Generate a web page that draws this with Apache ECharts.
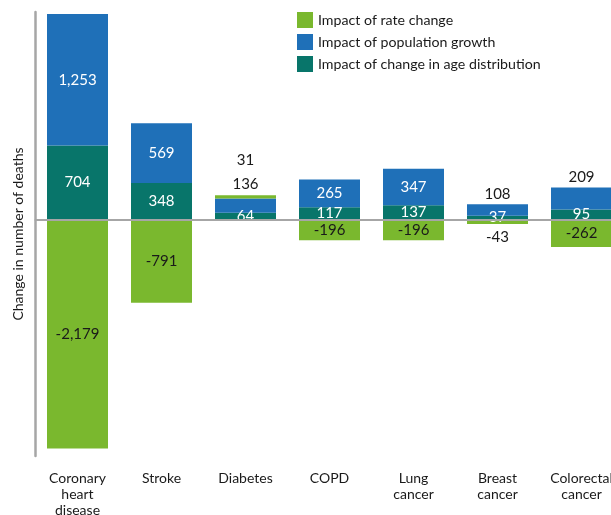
<!DOCTYPE html>
<head>
    <meta charset="utf-8">
    <title>Change in number of deaths</title>
    <style>
        body { margin: 0; background: #fff; }
        #chart { width: 611px; height: 515px; }
    </style>
</head>
<body>
    <div id="chart"></div>

    <script src="https://cdn.jsdelivr.net/npm/echarts@6/dist/echarts.min.js"></script>
    <script type="text/javascript">

    // data
    var causes = ['Coronary\nheart\ndisease', 'Stroke', 'Diabetes', 'COPD', 'Lung\ncancer', 'Breast\ncancer', 'Colorectal\ncancer'];
    var rateChange = [-2179, -791, 31, -196, -196, -43, -262];
    var popGrowth = [1253, 569, 136, 265, 347, 108, 209];
    var ageChange = [704, 348, 64, 117, 137, 37, 95];

    var green = '#7ab82e', blue = '#1f70b8', teal = '#08756a', grey = '#a6a6a6', ink = '#1a1a1a';

    function fmt(p) { return Number(p.value).toLocaleString('en-US'); }

    // small segments get their label outside the bar
    var ageData = ageChange.map(function (v) {
        return { value: v, label: { position: 'inside', color: '#fff' } };
    });
    var popData = popGrowth.map(function (v, i) {
        if (v < 230) {
            return { value: v, label: { position: 'top', distance: rateChange[i] > 0 ? 7 : 3, color: ink } };
        }
        return { value: v, label: { position: 'inside', color: '#fff' } };
    });
    var rateData = rateChange.map(function (v, i) {
        if (v > 0) {
            return { value: v, label: { position: 'top', distance: popGrowth[i] < 230 ? 28 : 3, color: ink } };
        }
        if (v > -100) {
            return { value: v, label: { position: 'bottom', distance: 6, color: ink } };
        }
        return { value: v, label: { position: 'inside', color: ink } };
    });

    var myChart = echarts.init(document.getElementById('chart'), null, { renderer: 'canvas' });

    var lbl = { show: true, fontFamily: 'Lato', fontSize: 15, formatter: fmt };

    myChart.setOption(
        option = {
            animation: false,
            textStyle: { fontFamily: 'Lato' },
            legend: {
                data: ['Impact of rate change', 'Impact of population growth', 'Impact of change in age distribution'],
                orient: 'vertical',
                left: 297,
                top: 12,
                padding: 0,
                icon: 'rect',
                itemWidth: 16,
                itemHeight: 16,
                itemGap: 6,
                textStyle: { fontFamily: 'Lato', fontSize: 14.2, color: ink }
            },
            grid: {
                left: 35.5,
                top: 12,
                width: 588,
                height: 444,
                containLabel: false,
                outerBoundsMode: 'none'
            },
            xAxis: [
                {
                    type: 'category',
                    data: causes,
                    position: 'bottom',
                    z: 10,
                    axisLine: { onZero: true, lineStyle: { color: grey, width: 2 } },
                    axisTick: { show: false },
                    axisLabel: { show: false }
                },
                {
                    type: 'category',
                    data: causes,
                    position: 'bottom',
                    axisLine: { show: false, onZero: false },
                    axisTick: { show: false },
                    axisLabel: {
                        interval: 0,
                        margin: 14,
                        fontFamily: 'Lato',
                        fontSize: 14,
                        lineHeight: 16,
                        color: ink
                    }
                }
            ],
            yAxis: {
                type: 'value',
                min: -2250,
                max: 1975,
                name: 'Change in number of deaths',
                nameLocation: 'middle',
                nameGap: 10,
                nameRotate: 90,
                nameTextStyle: { fontFamily: 'Lato', fontSize: 14, color: ink },
                axisLine: { show: true, lineStyle: { color: grey, width: 2.5 } },
                axisTick: { show: false },
                axisLabel: { show: false },
                splitLine: { show: false }
            },
            series: [
                {
                    name: 'Impact of change in age distribution',
                    type: 'bar',
                    stack: 'total',
                    barWidth: 61,
                    itemStyle: { color: teal },
                    label: lbl,
                    data: ageData
                },
                {
                    name: 'Impact of population growth',
                    type: 'bar',
                    stack: 'total',
                    barWidth: 61,
                    itemStyle: { color: blue },
                    label: lbl,
                    data: popData
                },
                {
                    name: 'Impact of rate change',
                    type: 'bar',
                    stack: 'total',
                    barWidth: 61,
                    itemStyle: { color: green },
                    label: lbl,
                    data: rateData
                }
            ]
        });

    </script>
</body>
